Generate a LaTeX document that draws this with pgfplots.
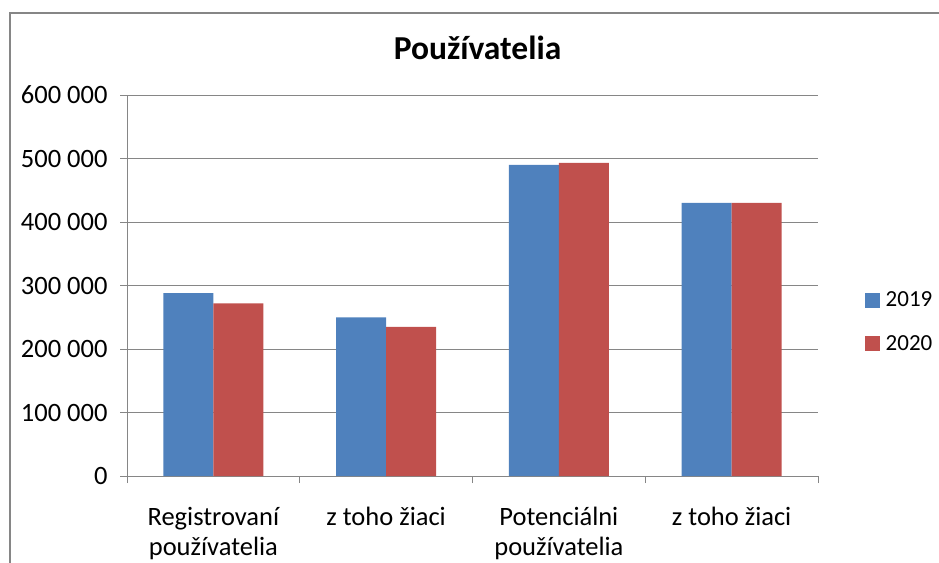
\documentclass[border=0pt]{standalone}
\usepackage{pgfplots}
\pgfplotsset{compat=1.18}
\usepackage{fontspec}
\setmainfont{Carlito}

\definecolor{c2019}{HTML}{4F81BD}
\definecolor{c2020}{HTML}{C0504D}
\definecolor{axgray}{HTML}{868686}

% pocet pouzivatelov
\pgfplotstableread{
x y2019 y2020
0 288000 272000
1 250000 235000
2 490000 493000
3 430000 430000
}\users

\begin{document}
\begin{tikzpicture}[x=1bp,y=1bp]
\useasboundingbox (0,0) rectangle (939,-563);
\draw[axgray, line width=1.3bp] (10,-563) -- (10,-13) -- (939,-13);
\begin{axis}[
    at={(127bp,-476bp)}, anchor=south west,
    scale only axis,
    width=691bp, height=381bp,
    ybar=0pt, bar width=50bp,
    xmin=-0.5, xmax=3.5,
    ymin=0, ymax=600000,
    axis lines=left,
    axis line style={-, axgray, line width=1bp},
    tick align=outside,
    major tick length=7bp,
    tick style={axgray, line width=1bp},
    xtick={-0.5,0.5,1.5,2.5,3.5},
    xticklabels={},
    extra x ticks={0,1,2,3},
    extra x tick labels={{Registrovaní\\používatelia},{z toho žiaci},{Potenciálni\\používatelia},{z toho žiaci}},
    extra x tick style={major tick length=0pt},
    xticklabel style={align=center, anchor=north, yshift=-28bp,
        font=\fontsize{26.5bp}{30bp}\selectfont},
    ytick={0,100000,200000,300000,400000,500000,600000},
    yticklabels={0,100 000,200 000,300 000,400 000,500 000,600 000},
    scaled y ticks=false,
    yticklabel style={xshift=-9bp, font=\fontsize{26.5bp}{31bp}\selectfont},
    ymajorgrids,
    grid style={axgray, line width=1bp},
    title={Používatelia},
    title style={at={(0.5,1)}, anchor=center, yshift=41bp, xshift=5bp,
        font=\fontsize{33.5bp}{40bp}\selectfont\bfseries},
    legend style={at={(1.063,0.405)}, anchor=west, draw=none,
        font=\fontsize{23bp}{28bp}\selectfont, row sep=23bp,
        nodes={inner xsep=6bp}},
    legend image code/.code={
        \fill[#1, draw=none] (0bp,-7.5bp) rectangle (15bp,7.5bp);},
]
\addplot[fill=c2019, draw=none] table[x=x, y=y2019] {\users};
\addlegendentry{2019}
\addplot[fill=c2020, draw=none] table[x=x, y=y2020] {\users};
\addlegendentry{2020}
\end{axis}
\end{tikzpicture}
\end{document}
